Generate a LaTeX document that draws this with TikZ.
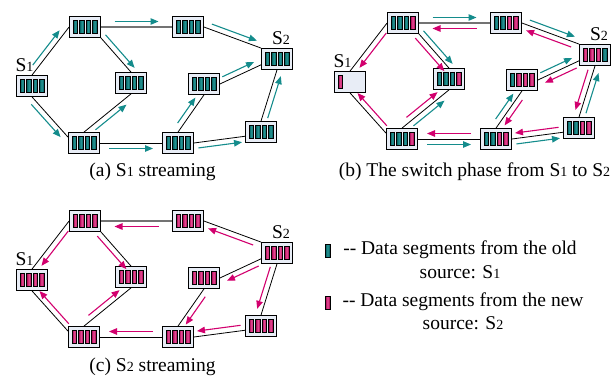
\documentclass[tikz,border=0pt]{standalone}
\usepackage{fontspec}
\setmainfont{Liberation Serif}
\usepackage{tikz}
\usetikzlibrary{arrows.meta,calc}

\definecolor{bufbg}{RGB}{232,237,246}
\definecolor{tealdk}{RGB}{0,92,92}
\definecolor{teallt}{RGB}{40,150,150}
\definecolor{magdk}{RGB}{165,0,80}
\definecolor{maglt}{RGB}{232,80,150}
\definecolor{tealarr}{RGB}{20,140,140}
\definecolor{magarr}{RGB}{210,0,110}

\newcommand\sub[1]{{\fontsize{14}{14}\selectfont #1}}
% segments inside a buffer
\newcommand\segs[2]{%
  \foreach \c [count=\i] in {#2}
    \draw[bar\c] ($(#1.center)+({6.4*\i-18.15},-6.3)$) rectangle +(4.3,12.6);}
% arrow alongside a link: [length]{style}{from}{to}{side}
\newcommand\flow[5][44]{%
  \pgfmathsetmacro\flen{#1/2}%
  \pgfmathsetmacro\foff{#5*5.5}%
  \coordinate (fm) at ($(#3)!0.5!(#4)$);
  \coordinate (fp) at ($(fm)!\flen pt!(#3)$);
  \coordinate (fq) at ($(fm)!\flen pt!(#4)$);
  \draw[#2] ($(fp)!\foff pt!90:(fq)$) -- ($(fq)!\foff pt!-90:(fp)$);}

\begin{document}
\begin{tikzpicture}[
    x=1pt, y=-1pt,
    buf/.style={draw, line width=0.8pt, fill=bufbg, minimum width=31pt, minimum height=21pt, inner sep=0pt},
    barT/.style={draw=black, line width=0.5pt, left color=tealdk, right color=tealdk, middle color=teallt},
    barM/.style={draw=black, line width=0.5pt, left color=magdk, right color=magdk, middle color=maglt},
    link/.style={line width=0.8pt},
    pipe/.style={line width=1.4pt, black!55},
    tflow/.style={tealarr, line width=1.1pt, -{Triangle[length=8pt,width=6.5pt]}},
    mflow/.style={magarr, line width=1.1pt, -{Triangle[length=8pt,width=6.5pt]}},
    lbl/.style={font=\fontsize{19.5}{23}\selectfont, inner sep=0pt, anchor=base},
    legbar/.style={minimum width=4.6pt, minimum height=12.6pt, inner sep=0pt},
  ]
  \useasboundingbox (0,0) rectangle (616,379);

  % the three networks
  \foreach \p/\sx/\sy in {a/0/0, b/318/-4, c/0/194} {
    \begin{scope}[shift={(\sx,\sy)}]
      \node[buf] (\p-s1) at (32,86) {};
      \node[buf] (\p-tl) at (85,27) {};
      \node[buf] (\p-tm) at (188,27) {};
      \node[buf] (\p-ml) at (131,83) {};
      \node[buf] (\p-s2) at (277,59) {};
      \node[buf] (\p-mr) at (204,84) {};
      \node[buf] (\p-bl) at (84,143) {};
      \node[buf] (\p-bm) at (178,143) {};
      \node[buf] (\p-br) at (261,132) {};
      \node[lbl] (\p-s1lbl) at (24.5,72) {S\sub{1}};
      \node[lbl] (\p-s2lbl) at (281,45) {S\sub{2}};
      \draw[link] (\p-s1.north) -- (\p-tl.west);
      \draw[link] (\p-s1.south) -- (\p-bl.160);
      \draw[pipe] (\p-tl.east) -- (\p-tm.west);
      \draw[link] (\p-tl.south east) -- (\p-ml.north);
      \draw[link] (\p-tm.east) -- (\p-s2.north west);
      \draw[link] (\p-bl.north) -- (\p-ml.south);
      \draw[link] (\p-bl.east) -- (\p-bm.west);
      \draw[link] (\p-bm.north) -- (\p-mr.south);
      \draw[link] (\p-mr.east) -- (\p-s2.200);
      \draw[link] (\p-bm.east) -- (\p-br.195);
      \draw[link] (\p-br.north) -- (\p-s2.south);
    \end{scope}
  }

  % buffer contents
  \foreach \n in {s1,tl,tm,ml,s2,mr,bl,bm,br} {
    \segs{a-\n}{T,T,T,T}
    \segs{c-\n}{M,M,M,M}
  }
  \segs{b-s1}{M}
  \segs{b-tl}{T,T,T,M}
  \segs{b-tm}{T,T,M,M}
  \segs{b-ml}{T,T,T,M}
  \segs{b-s2}{M,M,M,T}
  \segs{b-mr}{T,M,M,M}
  \segs{b-bl}{T,T,T,M}
  \segs{b-bm}{T,T,M,M}
  \segs{b-br}{T,T,M,M}

  % (a) S1 streaming
  \flow{tflow}{a-s1.north}{a-tl.west}{1}
  \flow{tflow}{a-s1.south}{a-bl.160}{-1}
  \flow{tflow}{a-tl.east}{a-tm.west}{1}
  \flow{tflow}{a-tl.south east}{a-ml.north}{1}
  \flow[48]{tflow}{a-tm.east}{a-s2.north west}{1}
  \flow[40]{tflow}{a-bl.north}{a-ml.south}{-1}
  \flow{tflow}{a-bl.east}{a-bm.west}{-1}
  \flow[31]{tflow}{a-bm.north}{a-mr.south}{1}
  \flow[35]{tflow}{a-mr.east}{a-s2.200}{1}
  \flow{tflow}{a-bm.east}{a-br.195}{-1}
  \flow{tflow}{a-br.north}{a-s2.south}{-1}

  % (b) switch phase
  \flow{mflow}{b-tl.west}{b-s1.north}{1}
  \flow{tflow}{b-tl.east}{b-tm.west}{1}
  \flow{mflow}{b-tm.west}{b-tl.east}{1}
  \flow{tflow}{b-tl.south east}{b-ml.north}{1}
  \flow{mflow}{b-tl.south east}{b-ml.north}{-1}
  \flow[48]{tflow}{b-tm.east}{b-s2.north west}{1}
  \flow[48]{mflow}{b-s2.north west}{b-tm.east}{1}
  \flow{mflow}{b-bl.160}{b-s1.south}{-1}
  \flow[40]{tflow}{b-bl.north}{b-ml.south}{-1}
  \flow[40]{mflow}{b-bl.north}{b-ml.south}{1}
  \flow{tflow}{b-bl.east}{b-bm.west}{-1}
  \flow{mflow}{b-bm.west}{b-bl.east}{-1}
  \flow[31]{tflow}{b-bm.north}{b-mr.south}{1}
  \flow[31]{mflow}{b-mr.south}{b-bm.north}{1}
  \flow[35]{tflow}{b-mr.east}{b-s2.200}{1}
  \flow[35]{mflow}{b-s2.200}{b-mr.east}{1}
  \flow{tflow}{b-bm.east}{b-br.195}{-1}
  \flow{mflow}{b-br.195}{b-bm.east}{-1}
  \flow[42]{tflow}{b-br.north}{b-s2.south}{-1}
  \flow[42]{mflow}{b-s2.south}{b-br.north}{-1}

  % (c) S2 streaming
  \flow{mflow}{c-tl.west}{c-s1.north}{1}
  \flow{mflow}{c-tm.west}{c-tl.east}{1}
  \flow{mflow}{c-tl.south east}{c-ml.north}{-1}
  \flow[48]{mflow}{c-s2.north west}{c-tm.east}{1}
  \flow{mflow}{c-bl.160}{c-s1.south}{-1}
  \flow[40]{mflow}{c-bl.north}{c-ml.south}{1}
  \flow{mflow}{c-bm.west}{c-bl.east}{-1}
  \flow[34]{mflow}{c-mr.south}{c-bm.north}{1}
  \flow[35]{mflow}{c-s2.200}{c-mr.east}{1}
  \flow{mflow}{c-br.195}{c-bm.east}{-1}
  \flow{mflow}{c-s2.south}{c-br.north}{-1}

  % captions
  \node[lbl] (capa) at (152.5,177) {(a) S\sub{1} streaming};
  \node[lbl] (capb) at (474.5,177) {(b) The switch phase from S\sub{1} to S\sub{2}};
  \node[lbl] (capc) at (152.5,372) {(c) S\sub{2} streaming};

  % legend
  \node[legbar, barT] (keyold) at (327.5,251) {};
  \node[lbl] (oldtxt) at (460,255) {-{}- Data segments from the old};
  \node[lbl] (oldsrc) at (460,279) {source: S\sub{1}};
  \node[legbar, barM] (keynew) at (327.5,302.5) {};
  \node[lbl] (newtxt) at (463,307) {-{}- Data segments from the new};
  \node[lbl] (newsrc) at (463,330) {source: S\sub{2}};
\end{tikzpicture}
\end{document}
